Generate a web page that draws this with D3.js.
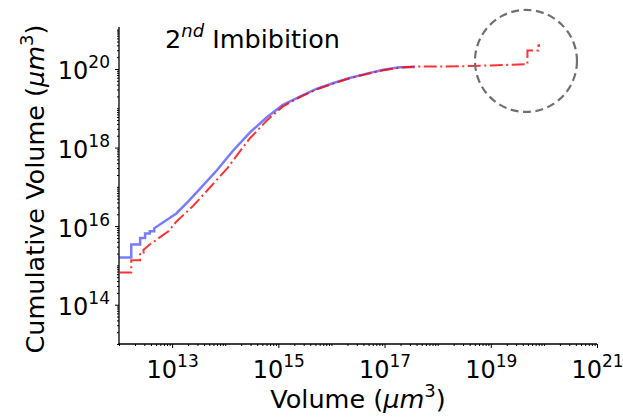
<!DOCTYPE html>
<html>
<head>
<meta charset="utf-8">
<script src="https://cdn.jsdelivr.net/npm/d3@7"></script>
<style>
body { margin: 0; background: #fff; }
text { font-family: "DejaVu Sans", sans-serif; fill: #000; }
</style>
</head>
<body>
<svg id="chart" width="623" height="417"></svg>
<script>
"use strict";

// blue series (solid): volume vs cumulative volume, um^3
var blueVol = [1.0e12, 1.7e12, 1.7e12, 2.5e12, 2.5e12, 3.1e12, 3.1e12, 3.8e12, 3.8e12,
	4.6e12, 4.6e12, 5.9e12, 1.2e13, 2.0e13, 3.3e13, 6.9e13, 1.4e14, 2.9e14, 6.0e14, 1.2e15, 2.6e15,
	5.2e15, 1.1e16, 2.2e16, 4.6e16, 9.5e16, 1.9e17, 3.7e17];
var blueCum = [1.6e15, 1.6e15, 3.4e15, 3.4e15, 5.0e15, 5.0e15, 6.5e15, 6.5e15, 7.4e15,
	7.4e15, 8.8e15, 1.1e16, 2.1e16, 4.2e16, 8.7e16, 2.6e17, 8.3e17, 2.4e18, 5.8e18, 1.2e19, 2.0e19,
	3.1e19, 4.4e19, 5.9e19, 7.6e19, 9.5e19, 1.1e20, 1.12e20];

// red series (dash-dot)
var redVol = [1.0e12, 1.7e12, 1.7e12, 2.5e12, 2.5e12, 2.9e12, 2.9e12, 3.8e12, 5.1e12,
	6.8e12, 8.5e12, 1.2e13, 2.5e13, 5.1e13, 1.1e14, 2.0e14, 2.9e14, 6.0e14, 1.2e15,
	2.6e15, 5.2e15, 1.1e16, 2.2e16, 4.6e16, 9.5e16, 1.9e17, 3.7e17, 2.6e18, 1.0e19,
	4.9e19, 4.9e19, 7.9e19, 7.9e19, 8.5e19];
var redCum = [6.6e14, 6.6e14, 1.35e15, 1.35e15, 2.1e15, 2.1e15, 2.5e15, 3.4e15, 4.5e15,
	6.0e15, 7.4e15, 1.3e16, 3.3e16, 9.5e16, 3.0e17, 8.9e17, 1.7e18, 4.8e18, 1.1e19,
	1.95e19, 3.0e19, 4.3e19, 5.8e19, 7.4e19, 9.3e19, 1.07e20, 1.15e20, 1.17e20, 1.23e20,
	1.32e20, 2.95e20, 2.95e20, 4.0e20, 4.0e20];

var xMajor = [13, 15, 17, 19, 21];
var yMajor = [14, 16, 18, 20];
var titleText = ["2", "nd", " Imbibition"];

// highlighted region (dashed circle)
var ringCenter = [4.6e19, 1.6e20];

var svg = d3.select("#chart");

var x = d3.scaleLog().domain([1e12, 1e21]).range([119, 597]);
var y = d3.scaleLog().domain([1e13, 1.17e21]).range([344, 27]);

function minorTicks(lo, hi, majors) {
	var out = [];
	for (var e = lo; e <= hi; e++) {
		for (var k = 1; k < 10; k++) {
			if (k == 1 && majors.indexOf(e) >= 0) continue;
			out.push(k * Math.pow(10, e));
		}
	}
	return out;
}

var xMinor = minorTicks(12, 20, xMajor).filter(v => v <= 1e21);
var yMinor = minorTicks(13, 21, yMajor).filter(v => v <= 1.17e21);

// minor ticks
svg.append("g")
   .attr("transform", "translate(0,344)")
   .call(d3.axisBottom(x).tickValues(xMinor).tickSize(2).tickFormat(""))
   .call(g => g.select(".domain").remove());
svg.append("g")
   .attr("transform", "translate(119,0)")
   .call(d3.axisLeft(y).tickValues(yMinor).tickSize(2).tickFormat(""))
   .call(g => g.select(".domain").remove());

// major ticks + labels
var gx = svg.append("g")
   .attr("transform", "translate(0,344)")
   .call(d3.axisBottom(x).tickValues(xMajor.map(e => Math.pow(10, e))).tickSize(4).tickFormat(""))
   .call(g => g.select(".domain").remove());
gx.selectAll(".tick").append("text")
  .attr("y", 34)
  .attr("text-anchor", "middle")
  .style("font-size", "24px")
  .each(function(d, i) {
  	let t = d3.select(this);
  	t.append("tspan").text("10");
  	t.append("tspan").attr("dy", -11).style("font-size", "17px").text(xMajor[i]);
  });

var gy = svg.append("g")
   .attr("transform", "translate(119,0)")
   .call(d3.axisLeft(y).tickValues(yMajor.map(e => Math.pow(10, e))).tickSize(4).tickFormat(""))
   .call(g => g.select(".domain").remove());
gy.selectAll(".tick").append("text")
  .attr("x", -9)
  .attr("y", 10)
  .attr("text-anchor", "end")
  .style("font-size", "24px")
  .each(function(d, i) {
  	let t = d3.select(this);
  	t.append("tspan").text("10");
  	t.append("tspan").attr("dy", -11).style("font-size", "17px").text(yMajor[i]);
  });

svg.selectAll(".tick line").attr("stroke", "#000").attr("stroke-width", 1);

// spines
svg.append("line").attr("x1", 119).attr("x2", 119).attr("y1", 27).attr("y2", 344.5)
   .attr("stroke", "#000").attr("stroke-width", 1.3);
svg.append("line").attr("x1", 118.5).attr("x2", 597).attr("y1", 344).attr("y2", 344)
   .attr("stroke", "#000").attr("stroke-width", 1.3);

var line = d3.line().x(d => x(d[0])).y(d => y(d[1]));

svg.append("path")
   .datum(d3.zip(blueVol, blueCum))
   .attr("d", line)
   .attr("fill", "none")
   .attr("stroke", "#0000ff")
   .attr("stroke-opacity", 0.52)
   .attr("stroke-width", 2.5);

svg.append("path")
   .datum(d3.zip(redVol, redCum))
   .attr("d", line)
   .attr("fill", "none")
   .attr("stroke", "#ff0000")
   .attr("stroke-opacity", 0.8)
   .attr("stroke-width", 2)
   .attr("stroke-dasharray", "13,3.5,2,3.5");

svg.append("circle")
   .attr("cx", x(ringCenter[0]))
   .attr("cy", y(ringCenter[1]))
   .attr("r", 51)
   .attr("fill", "none")
   .attr("stroke", "#707070")
   .attr("stroke-width", 2.2)
   .attr("stroke-dasharray", "8,4.5");

// title inside the axes
var title = svg.append("text").attr("x", 165).attr("y", 48).style("font-size", "25.5px");
title.append("tspan").text(titleText[0]);
title.append("tspan").attr("dy", -11).style("font-size", "18px").style("font-style", "italic").text(titleText[1]);
title.append("tspan").attr("dy", 11).text(titleText[2]);

// axis labels
function unitLabel(sel, prefix) {
	sel.append("tspan").text(prefix + "(");
	sel.append("tspan").style("font-style", "italic").text("\u03bcm");
	sel.append("tspan").attr("dy", -11).style("font-size", "18px").text("3");
	sel.append("tspan").attr("dy", 11).text(")");
}

var xl = svg.append("text").attr("x", 358).attr("y", 408)
   .attr("text-anchor", "middle").style("font-size", "25.5px");
unitLabel(xl, "Volume ");

var yl = svg.append("text").attr("transform", "translate(44,189) rotate(-90)")
   .attr("text-anchor", "middle").style("font-size", "25.5px");
unitLabel(yl, "Cumulative Volume ");
</script>
</body>
</html>
